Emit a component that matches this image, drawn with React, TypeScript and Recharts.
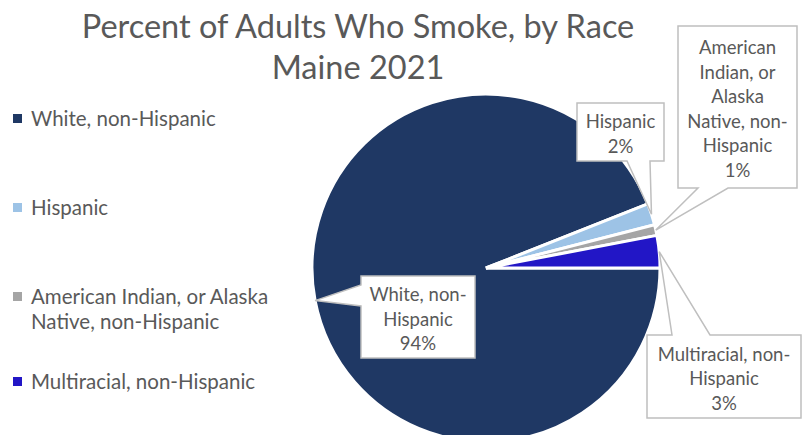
import { PieChart, Pie, Cell, Legend } from "recharts";

const races = [
  "White, non-Hispanic",
  "Hispanic",
  "American Indian, or Alaska Native, non-Hispanic",
  "Multiracial, non-Hispanic",
];
const smokerShare = [94, 2, 1, 3];
const sliceColors = ["#1F3864", "#9DC3E6", "#A5A5A5", "#2216C6"];

const data = races.map((name, i) => ({ name, value: smokerShare[i] }));
const total = smokerShare.reduce((a, b) => a + b, 0);

const FONT = "Lato, 'Open Sans', sans-serif";
const TEXT = "#595959";

// callout boxes (layout only): rect, side the pointer leaves from, pointer base, wrap width in chars
const callouts = [
  { x: 361, y: 276, w: 114, h: 82, side: "left", b0: 285, b1: 306, wrap: 11 },
  { x: 577, y: 103, w: 87, h: 58, side: "bottom", b0: 627, b1: 650, wrap: 10 },
  { x: 678, y: 26, w: 119, h: 162, side: "bottom", b0: 698, b1: 728, wrap: 12 },
  { x: 647, y: 335, w: 154, h: 83, side: "top", b0: 672, b1: 710, wrap: 17 },
];

function wrapText(s: string, max: number) {
  const tokens = s.match(/[^\s-]+-?\s*/g) || [s];
  const lines: string[] = [];
  let cur = "";
  for (const t of tokens) {
    if (cur && (cur + t).trimEnd().length > max) {
      lines.push(cur.trimEnd());
      cur = t;
    } else cur += t;
  }
  if (cur) lines.push(cur.trimEnd());
  return lines;
}

function calloutPath(c: any, tx: number, ty: number) {
  const { x, y, w, h, side, b0, b1 } = c;
  let d = `M${x},${y}`;
  if (side === "top") d += ` L${b0},${y} L${tx},${ty} L${b1},${y}`;
  d += ` L${x + w},${y}`;
  if (side === "right") d += ` L${x + w},${b0} L${tx},${ty} L${x + w},${b1}`;
  d += ` L${x + w},${y + h}`;
  if (side === "bottom") d += ` L${b1},${y + h} L${tx},${ty} L${b0},${y + h}`;
  d += ` L${x},${y + h}`;
  if (side === "left") d += ` L${x},${b1} L${tx},${ty} L${x},${b0}`;
  return d + " Z";
}

const renderCallout = (props: any) => {
  const { cx, cy, midAngle, outerRadius, index, name, value } = props;
  const c = callouts[index];
  const rad = (-midAngle * Math.PI) / 180;
  const tx = cx + outerRadius * Math.cos(rad);
  const ty = cy + outerRadius * Math.sin(rad);
  const lines = [...wrapText(name, c.wrap), `${Math.round((value / total) * 100)}%`];
  const lh = 24.5;
  const mid = c.y + c.h / 2 + 1.5;
  const first = mid - ((lines.length - 1) * lh) / 2;
  return (
    <g key={`callout-${index}`}>
      <path d={calloutPath(c, tx, ty)} fill="#fff" stroke="#BFBFBF" strokeWidth={1.5} />
      {lines.map((l, i) => (
        <text
          key={i}
          x={c.x + c.w / 2}
          y={first + i * lh}
          textAnchor="middle"
          dominantBaseline="central"
          fontFamily={FONT}
          fontSize={18.5}
          fill={TEXT}
        >
          {l}
        </text>
      ))}
    </g>
  );
};

const legendRows = [118, 207, 296, 381];

const renderLegend = () => (
  <div style={{ position: "relative", width: 300, height: 435 }}>
    {races.map((r, i) => (
      <div key={r}>
        <div
          style={{
            position: "absolute",
            left: 13,
            top: legendRows[i] - 4.5,
            width: 9,
            height: 9,
            background: sliceColors[i],
          }}
        />
        <div
          style={{
            position: "absolute",
            left: 31,
            top: legendRows[i] - 12.5,
            width: 262,
            lineHeight: "25px",
            fontFamily: FONT,
            fontSize: 20.5,
            color: TEXT,
          }}
        >
          {r}
        </div>
      </div>
    ))}
  </div>
);

export default function App() {
  return (
    <div style={{ position: "absolute", left: 0, top: 0, width: 802, height: 435, background: "#fff" }}>
      <div
        style={{
          position: "absolute",
          left: 0,
          top: 5,
          width: 716,
          textAlign: "center",
          fontFamily: FONT,
          fontSize: 32.5,
          lineHeight: "41px",
          color: TEXT,
        }}
      >
        Percent of Adults Who Smoke, by Race
        <br />
        Maine 2021
      </div>
      <PieChart
        width={802}
        height={435}
        margin={{ top: 0, right: 0, bottom: 0, left: 0 }}
        style={{ position: "absolute", left: 0, top: 0 }}
      >
        <Pie
          data={data}
          dataKey="value"
          nameKey="name"
          cx={486}
          cy={268}
          outerRadius={174}
          startAngle={0}
          endAngle={-360}
          stroke="#fff"
          strokeWidth={3}
          label={renderCallout}
          labelLine={false}
          isAnimationActive={false}
        >
          {data.map((d, i) => (
            <Cell key={d.name} fill={sliceColors[i]} />
          ))}
        </Pie>
        <Legend
          content={renderLegend}
          wrapperStyle={{ position: "absolute", left: 0, top: 0, width: 300, height: 435 }}
        />
      </PieChart>
    </div>
  );
}
